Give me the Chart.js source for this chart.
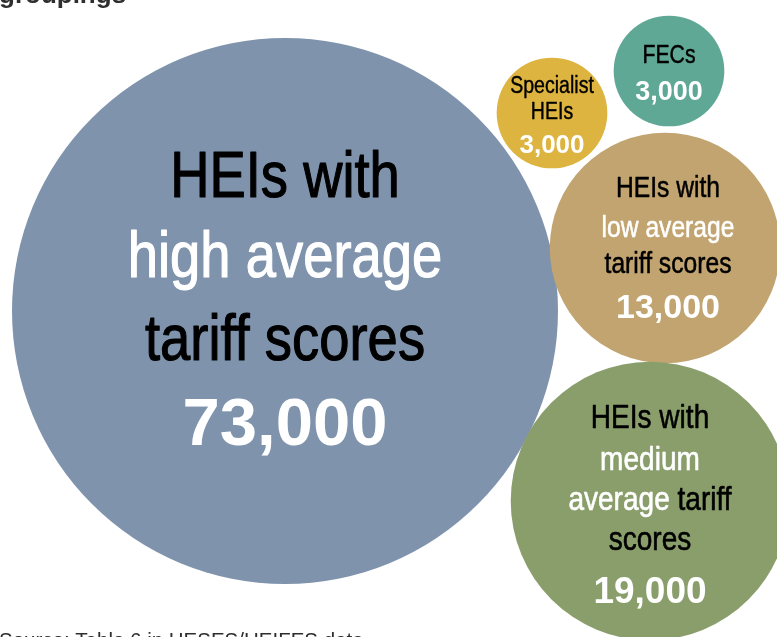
<!DOCTYPE html>
<html>
<head>
<meta charset="utf-8">
<script src="https://cdn.jsdelivr.net/npm/chart.js@4"></script>
<style>
  html, body { margin: 0; padding: 0; background: #fff; }
  canvas { display: block; }
</style>
</head>
<body>
<canvas id="bubble-chart" width="777" height="637"></canvas>
<script>
const categories = [
  "HEIs with high average tariff scores",
  "Specialist HEIs",
  "FECs",
  "HEIs with low average tariff scores",
  "HEIs with medium average tariff scores",
];
const students = [73000, 3000, 3000, 13000, 19000];
// bubble layout positions (layout units, same as pixels here)
const bubbleX = [285, 552, 669, 665, 650];
const bubbleY = [311, 113, 71, 248, 501];

// label lines, split into [text, tone] pieces
const labelLines = [
  [[["HEIs with", "k"]], [["high average", "w"]], [["tariff scores", "k"]]],
  [[["Specialist", "k"]], [["HEIs", "k"]]],
  [[["FECs", "k"]]],
  [[["HEIs with", "k"]], [["low average", "w"]], [["tariff scores", "k"]]],
  [[["HEIs with", "k"]], [["medium", "w"]], [["average ", "w"], ["tariff", "k"]], [["scores", "k"]]],
];

const bubbleColors = ["#7f93ad", "#ddb440", "#5fa896", "#c1a470", "#8a9e6c"];

// text styling per bubble: font sizes and baseline offsets from centre
const labelStyle = [
  { size: 64, numSize: 67, dx: 0, offsets: [-114, -34, 49, 134] },
  { size: 23, numSize: 26, dx: 0, offsets: [-20, 6, 40] },
  { size: 25, numSize: 27, dx: 0, offsets: [-8, 29] },
  { size: 29, numSize: 34, dx: 3, offsets: [-51, -11, 25, 70] },
  { size: 33, numSize: 37, dx: 0, offsets: [-73, -31, 9, 49, 102] },
];

const maxRadius = 273;
const maxValue = Math.max(...students);
const narrow = 0.85;

function drawPieces(ctx, pieces, cx, y, font, sx, weight) {
  ctx.font = font;
  let total = 0;
  pieces.forEach((p) => (total += ctx.measureText(p[0]).width * sx));
  let x = cx - total / 2;
  pieces.forEach((p) => {
    const col = p[1] === "w" ? "#ffffff" : "#000000";
    ctx.fillStyle = col;
    ctx.strokeStyle = col;
    ctx.lineWidth = weight;
    ctx.save();
    ctx.translate(x, y);
    ctx.scale(sx, 1);
    ctx.fillText(p[0], 0, 0);
    if (weight > 0) ctx.strokeText(p[0], 0, 0);
    ctx.restore();
    x += ctx.measureText(p[0]).width * sx;
  });
}

const bubbleLabels = {
  id: "bubbleLabels",
  afterDatasetsDraw(chart) {
    const ctx = chart.ctx;
    const meta = chart.getDatasetMeta(0);
    ctx.save();
    ctx.textBaseline = "alphabetic";
    ctx.textAlign = "left";
    ctx.lineJoin = "round";
    meta.data.forEach((el, i) => {
      const st = labelStyle[i];
      const cx = el.x + st.dx;
      labelLines[i].forEach((line, j) => {
        drawPieces(ctx, line, cx, el.y + st.offsets[j],
          st.size + 'px "Liberation Sans", Arial, sans-serif', narrow, st.size * 0.018);
      });
      const num = students[i].toLocaleString("en-GB");
      drawPieces(ctx, [[num, "w"]], cx, el.y + st.offsets[labelLines[i].length],
        "bold " + st.numSize + 'px "Liberation Sans", Arial, sans-serif', 1, 0);
    });

    // cropped heading and source line
    ctx.fillStyle = "#2e2e2e";
    ctx.font = 'bold 26px "Liberation Sans", Arial, sans-serif';
    ctx.fillText("groupings", -1, 3);
    ctx.font = '20.5px "Liberation Sans", Arial, sans-serif';
    ctx.fillText("Source: Table 6 in HESES/HEIFES data", -1, 647);
    ctx.restore();
  },
};

new Chart("bubble-chart", {
  type: "bubble",
  data: {
    labels: categories,
    datasets: [
      {
        data: students.map((v, i) => ({ x: bubbleX[i], y: bubbleY[i], v: v })),
        backgroundColor: bubbleColors,
        borderWidth: 0,
        radius: (c) => maxRadius * Math.sqrt(c.raw.v / maxValue),
        hoverRadius: 0,
        clip: false,
      },
    ],
  },
  options: {
    responsive: false,
    animation: false,
    layout: { padding: 0, autoPadding: false },
    plugins: {
      legend: { display: false },
      tooltip: { enabled: false },
      title: { display: false },
    },
    scales: {
      x: { type: "linear", min: 0, max: 777, display: false },
      y: { type: "linear", min: 0, max: 637, reverse: true, display: false },
    },
  },
  plugins: [bubbleLabels],
});
</script>
</body>
</html>
